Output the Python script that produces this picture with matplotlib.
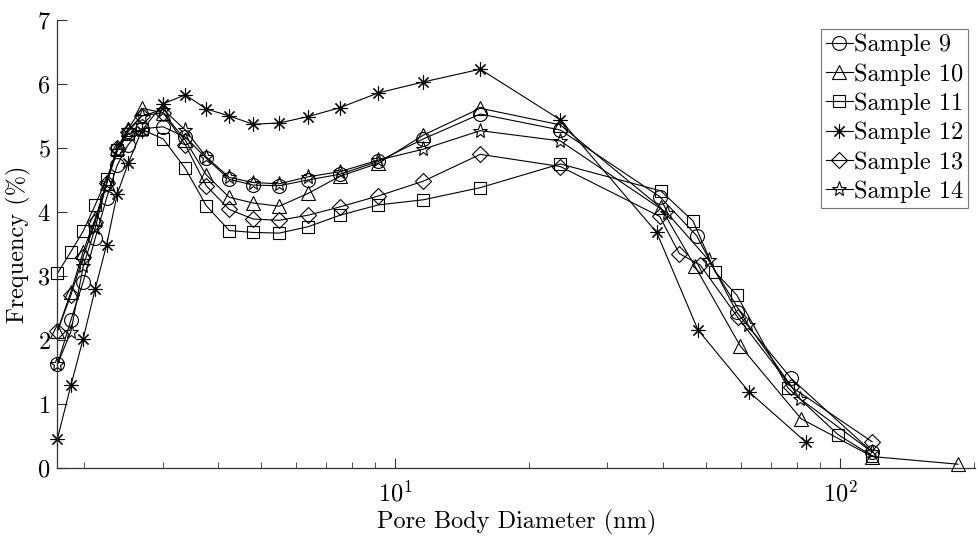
import matplotlib
matplotlib.use("Agg")
import matplotlib.pyplot as plt

plt.rcParams['font.family'] = 'serif'
plt.rcParams['font.serif'] = ['cmr10', 'DejaVu Serif']
plt.rcParams['mathtext.fontset'] = 'cm'
plt.rcParams['axes.formatter.use_mathtext'] = True

# pore body diameters (nm), shared bins on the left part
d_left = [1.742, 1.867, 1.990, 2.118, 2.247, 2.373, 2.512, 2.693, 3.011, 3.375,
          3.761, 4.236, 4.796, 5.487, 6.375, 7.52, 9.16, 11.56, 15.53, 23.5]

d9 = d_left + [39.3, 47.6, 58.6, 77.6, 118.0]
f9 = [1.62, 2.31, 2.91, 3.59, 4.22, 4.73, 5.05, 5.30, 5.33, 5.17,
      4.84, 4.51, 4.42, 4.41, 4.50, 4.59, 4.79, 5.14, 5.53, 5.28,
      4.24, 3.63, 2.43, 1.40, 0.25]

d10 = d_left + [39.5, 47.2, 59.6, 81.7, 118.0, 184.0]
f10 = [2.14, 2.75, 3.38, 3.90, 4.45, 5.00, 5.30, 5.62, 5.55, 5.12,
       4.58, 4.23, 4.14, 4.09, 4.29, 4.56, 4.76, 5.20, 5.62, 5.36,
       4.07, 3.15, 1.91, 0.77, 0.18, 0.06]

d11 = d_left + [39.5, 46.7, 52.4, 58.6, 76.4, 99.0, 118.0]
f11 = [3.04, 3.38, 3.70, 4.11, 4.52, 4.97, 5.22, 5.29, 5.14, 4.68,
       4.10, 3.71, 3.68, 3.67, 3.77, 3.95, 4.11, 4.19, 4.38, 4.75,
       4.33, 3.86, 3.06, 2.70, 1.25, 0.52, 0.19]

d12 = d_left + [38.7, 47.9, 62.4, 83.9]
f12 = [0.46, 1.29, 2.02, 2.80, 3.49, 4.28, 4.76, 5.27, 5.69, 5.83,
       5.61, 5.50, 5.37, 5.39, 5.49, 5.63, 5.86, 6.03, 6.23, 5.44,
       3.68, 2.16, 1.19, 0.40]

d13 = d_left + [39.3, 43.5, 48.5, 58.8, 77.6, 118.0]
f13 = [2.14, 2.70, 3.30, 3.85, 4.45, 5.00, 5.25, 5.50, 5.55, 5.05,
       4.41, 4.04, 3.89, 3.87, 3.95, 4.08, 4.25, 4.48, 4.90, 4.71,
       3.93, 3.35, 3.17, 2.36, 1.27, 0.41]

d14 = d_left + [40.9, 50.6, 62.2, 81.3, 118.0]
f14 = [1.62, 2.13, 3.15, 3.75, 4.45, 4.95, 5.28, 5.50, 5.60, 5.28,
       4.86, 4.54, 4.46, 4.44, 4.55, 4.63, 4.81, 4.98, 5.27, 5.11,
       3.98, 3.25, 2.23, 1.08, 0.25]

labels = ['Sample 9', 'Sample 10', 'Sample 11', 'Sample 12', 'Sample 13', 'Sample 14']
series = [(d9, f9), (d10, f10), (d11, f11), (d12, f12), (d13, f13), (d14, f14)]
markers = ['o', '^', 's', (8, 2, 0), 'D', '*']
msizes = [10, 10, 8, 10, 8, 11]

fs = 17.5

fig = plt.figure(figsize=(9.79, 5.38), dpi=100)
ax = fig.add_axes([0.0587, 0.130, 0.9373, 0.833])

for (d, f), lab, m, ms in zip(series, labels, markers, msizes):
    ax.plot(d, f, color='black', lw=0.8, marker=m, markersize=ms,
            markerfacecolor='none', markeredgecolor='black', markeredgewidth=0.8,
            label=lab, clip_on=False)

ax.set_xscale('log')
ax.set_xlim(1.742, 201)
ax.set_ylim(0, 7)
ax.set_yticks(range(8))

for s in ['top', 'right']:
    ax.spines[s].set_visible(False)
for s in ['left', 'bottom']:
    ax.spines[s].set_color('#333333')
    ax.spines[s].set_linewidth(0.9)

ax.tick_params(which='major', direction='in', length=7, labelsize=fs, color='#333333')
ax.tick_params(which='minor', direction='in', length=4, color='#333333')
ax.tick_params(axis='x', which='major', pad=9)
ax.tick_params(axis='y', which='major', pad=5)

ax.set_xlabel('Pore Body Diameter (nm)', fontsize=fs, labelpad=3)
ax.set_ylabel('Frequency (%)', fontsize=fs, labelpad=4)

leg = ax.legend(loc='upper right', bbox_to_anchor=(968 / 979, 1 - 29 / 538),
                bbox_transform=fig.transFigure, fontsize=fs,
                frameon=True, fancybox=False, edgecolor='#555555',
                handlelength=1.1, handletextpad=0.05, borderpad=0.2,
                labelspacing=0.28, borderaxespad=0)
leg.get_frame().set_linewidth(0.8)

fig.savefig('out.png', dpi=100)
